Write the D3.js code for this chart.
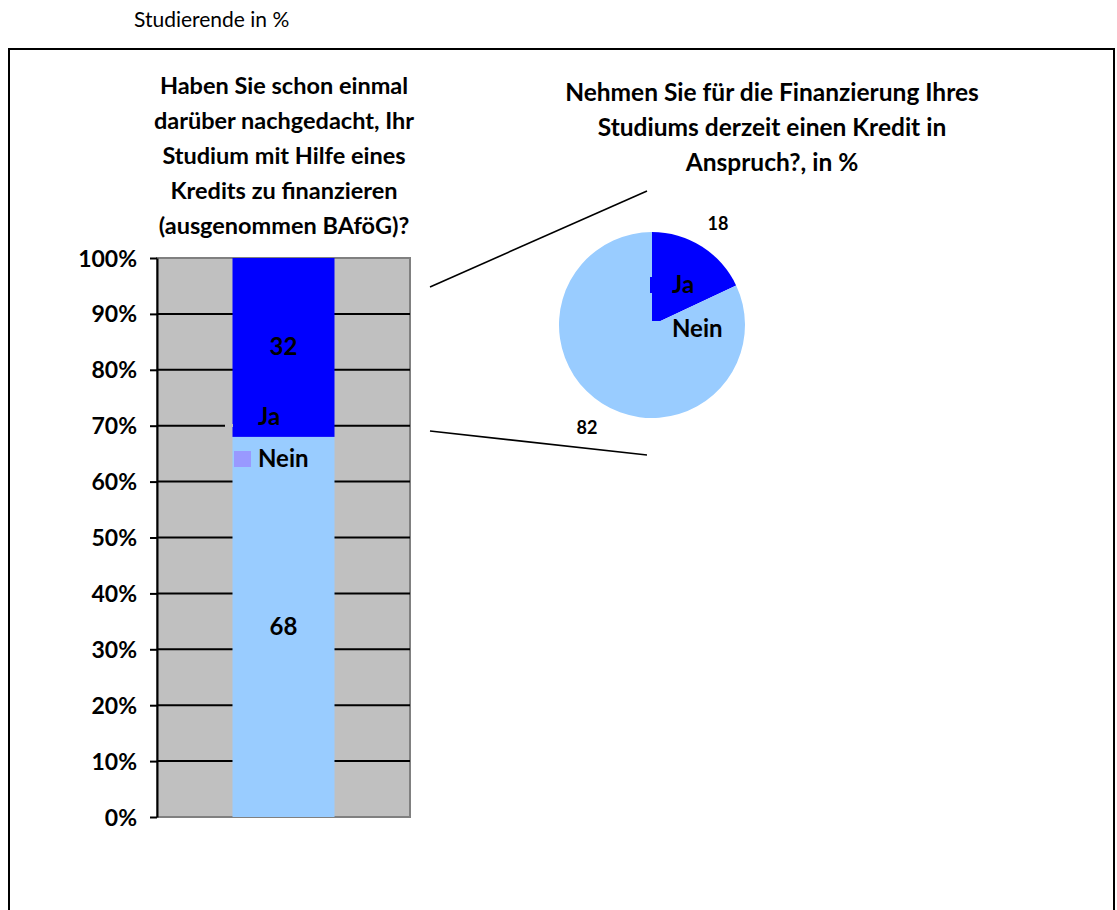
<!DOCTYPE html>
<html><head><meta charset="utf-8">
<script src="https://cdn.jsdelivr.net/npm/d3@7"></script>
<style>body{margin:0;background:#fff;} svg{display:block;font-family:Lato,"Open Sans",sans-serif;}</style>
</head><body>
<svg id="c" width="1117" height="910"></svg>
<script>
const categories = ["Ja", "Nein"];
const barValues = [32, 68];      // Kredit-Finanzierung überlegt
const pieValues = [18, 82];      // Kredit derzeit in Anspruch
const yTicks = [0, 10, 20, 30, 40, 50, 60, 70, 80, 90, 100];
const colors = {Ja: "#0000FF", Nein: "#99CCFF"};
const titleLeft = ["Haben Sie schon einmal", "darüber nachgedacht, Ihr", "Studium mit Hilfe eines", "Kredits zu finanzieren", "(ausgenommen BAföG)?"];
const titleRight = ["Nehmen Sie für die Finanzierung Ihres", "Studiums derzeit einen Kredit in", "Anspruch?, in %"];

const svg = d3.select("#c");
svg.append("text").attr("x", 134).attr("y", 27).attr("font-size", 21).attr("fill", "#000").text("Studierende in %");
// frame
svg.append("rect").attr("x", 9).attr("y", 49).attr("width", 1105).attr("height", 900)
  .attr("fill", "none").attr("stroke", "#000").attr("stroke-width", 2);

// Bar chart
const pl = 157, pr = 410, pt = 258, pb = 817;
const y = d3.scaleLinear().domain([0, 100]).range([pb, pt]);
const x = d3.scaleBand().domain(["q"]).range([pl, pr]).paddingInner(0).paddingOuter(0.75);
svg.append("rect").attr("x", pl).attr("y", pt).attr("width", pr - pl).attr("height", pb - pt)
  .attr("fill", "#C0C0C0").attr("stroke", "#808080").attr("stroke-width", 2);
// gridlines
svg.append("g").selectAll("line").data(yTicks.filter(d => d > 0 && d < 100)).join("line")
  .attr("x1", pl).attr("x2", pr).attr("y1", d => y(d)).attr("y2", d => y(d))
  .attr("stroke", "#000").attr("stroke-width", 2);
// stacked bar: Nein bottom, Ja top
const bw = 102;
const bx = x("q") + x.bandwidth() / 2 - bw / 2;
const stackOrder = d3.stack().keys(["Nein", "Ja"])([{Ja: barValues[0], Nein: barValues[1]}]);
svg.append("g").selectAll("rect").data(stackOrder).join("rect")
  .attr("x", bx).attr("width", bw)
  .attr("y", d => y(d[0][1])).attr("height", d => y(d[0][0]) - y(d[0][1]))
  .attr("fill", d => colors[d.key]);
svg.append("g").selectAll("text").data(stackOrder).join("text")
  .attr("x", bx + bw / 2).attr("y", d => y((d[0][0] + d[0][1]) / 2) + 8)
  .attr("text-anchor", "middle").attr("font-size", 24).attr("font-weight", "bold").text(d => d[0].data[d.key]);
// axis
const yAxis = d3.axisLeft(y).tickValues(yTicks).tickFormat(d => d + "%").tickSize(7).tickSizeOuter(0);
const ag = svg.append("g").attr("transform", `translate(${pl},0)`).call(yAxis);
ag.select(".domain").attr("stroke", "#000").attr("stroke-width", 2);
ag.selectAll(".tick line").attr("stroke", "#000").attr("stroke-width", 2);
ag.selectAll(".tick text").attr("font-size", 23).attr("font-weight", "bold").attr("font-family", "Lato").attr("fill", "#000").attr("x", -20).attr("dy", "0.35em");
// legend
const lg = svg.append("g");
lg.append("rect").attr("x", 225).attr("y", 424).attr("width", 8).attr("height", 3).attr("fill", "#C0C0C0");
const legItems = [{k: "Ja", y: 417, c: colors.Ja}, {k: "Nein", y: 459, c: "#9999FF"}];
lg.selectAll("rect.m").data(legItems).join("rect").attr("class", "m")
  .attr("x", 234).attr("y", d => d.y - 8).attr("width", 17).attr("height", 16).attr("fill", d => d.c);
lg.selectAll("text").data(legItems).join("text")
  .attr("x", 258).attr("y", d => d.y + 8).attr("font-size", 24).attr("font-weight", "bold").text(d => d.k);
// title left
svg.append("g").selectAll("text").data(titleLeft).join("text")
  .attr("x", 284).attr("y", (d, i) => 94 + i * 35).attr("text-anchor", "middle")
  .attr("font-size", 23.5).attr("font-weight", "bold").text(d => d);

// Pie
const cx = 652, cy = 325, r = 93;
const pie = d3.pie().sort(null).value(d => d.v);
const arcs = pie(categories.map((k, i) => ({k, v: pieValues[i]})));
const arc = d3.arc().innerRadius(0).outerRadius(r);
const pg = svg.append("g").attr("transform", `translate(${cx},${cy})`);
pg.selectAll("path").data(arcs).join("path").attr("d", arc).attr("fill", d => colors[d.data.k]);
const labPos = [[66, -101], [-65, 103]];
pg.selectAll("text.v").data(arcs).join("text").attr("class", "v")
  .attr("x", (d, i) => labPos[i][0]).attr("y", (d, i) => labPos[i][1] + 6)
  .attr("text-anchor", "middle").attr("font-size", 18).attr("font-weight", "bold").text(d => d.data.v);
// pie legend
const pl2 = [{k: "Ja", y: 285, c: colors.Ja}, {k: "Nein", y: 329, c: colors.Nein}];
svg.append("g").selectAll("rect").data(pl2).join("rect")
  .attr("x", 650).attr("y", d => d.y - 8).attr("width", 16).attr("height", 16).attr("fill", d => d.c);
svg.append("g").selectAll("text").data(pl2).join("text")
  .attr("x", 672).attr("y", d => d.y + 8).attr("font-size", 24).attr("font-weight", "bold").text(d => d.k);
// title right
svg.append("g").selectAll("text").data(titleRight).join("text")
  .attr("x", 772).attr("y", (d, i) => 101 + i * 35).attr("text-anchor", "middle")
  .attr("font-size", 24.5).attr("font-weight", "bold").text(d => d);

// connector lines
svg.append("line").attr("x1", 430).attr("y1", 287).attr("x2", 647).attr("y2", 191).attr("stroke", "#000").attr("stroke-width", 1.6);
svg.append("line").attr("x1", 430).attr("y1", 431).attr("x2", 647).attr("y2", 455).attr("stroke", "#000").attr("stroke-width", 1.6);
</script>
</body></html>
